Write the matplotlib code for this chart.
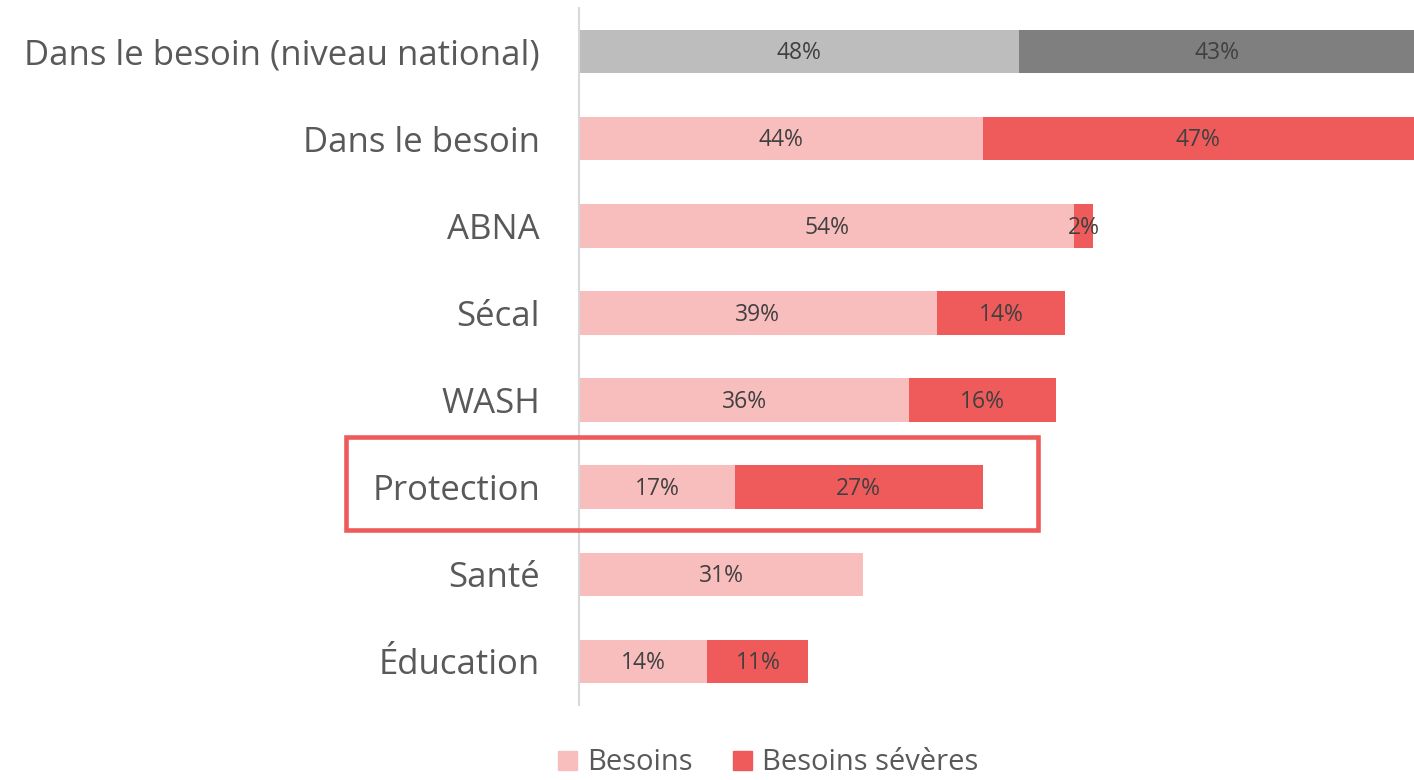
import matplotlib.pyplot as plt
from matplotlib.patches import Rectangle

plt.rcParams['font.family'] = ['Open Sans', 'DejaVu Sans']

categories = ["Dans le besoin (niveau national)", "Dans le besoin", "ABNA", "Sécal",
              "WASH", "Protection", "Santé", "Éducation"]
besoins = [48, 44, 54, 39, 36, 17, 31, 14]
severes = [43, 47, 2, 14, 16, 27, 0, 11]

c_light = ['#BDBDBD'] + ['#F8BDBD'] * 7
c_dark = ['#7F7F7F'] + ['#EF5A5B'] * 7

fig = plt.figure(figsize=(14.14, 7.8), dpi=100)
ax = fig.add_axes([579/1414, 1 - 705/780, 1 - 579/1414, 697/780])

y = range(len(categories))
b1 = ax.barh(y, besoins, height=0.5, color=c_light)
b2 = ax.barh(y, severes, left=besoins, height=0.5, color=c_dark)

for bars, vals in [(b1, besoins), (b2, severes)]:
    for rect, v in zip(bars, vals):
        if v == 0:
            continue
        ax.text(rect.get_x() + rect.get_width() / 2, rect.get_y() + rect.get_height() / 2 + 0.02,
                f"{v}%", ha='center', va='center', fontsize=16.5, color='#404040')

ax.set_xlim(0, 91)
ax.set_ylim(len(categories) - 0.5, -0.5)
ax.set_yticks(list(y))
ax.set_yticklabels(categories, fontsize=25, color='#595959')
ax.tick_params(axis='y', length=0, pad=28)
ax.set_xticks([])
for s in ['top', 'right', 'bottom']:
    ax.spines[s].set_visible(False)
ax.spines['left'].set_color('#D9D9D9')
ax.spines['left'].set_linewidth(1.5)

# cadre autour de Protection
fig.patches.append(Rectangle((346/1414, 1 - 530/780), (1038 - 346)/1414, (530 - 437)/780,
                             transform=fig.transFigure, fill=False,
                             edgecolor='#EF5A5B', linewidth=3.3))

h1 = Rectangle((0, 0), 1, 1, color='#F8BDBD')
h2 = Rectangle((0, 0), 1, 1, color='#EF5A5B')
leg = fig.legend([h1, h2], ["Besoins", "Besoins sévères"], loc='center',
                 bbox_to_anchor=(768/1414, 1 - 763/780), ncol=2, frameon=False,
                 fontsize=21, handlelength=0.65, handleheight=0.65, columnspacing=1.4,
                 handletextpad=0.35)
for t in leg.get_texts():
    t.set_color('#595959')

fig.savefig('out.png', dpi=100)
